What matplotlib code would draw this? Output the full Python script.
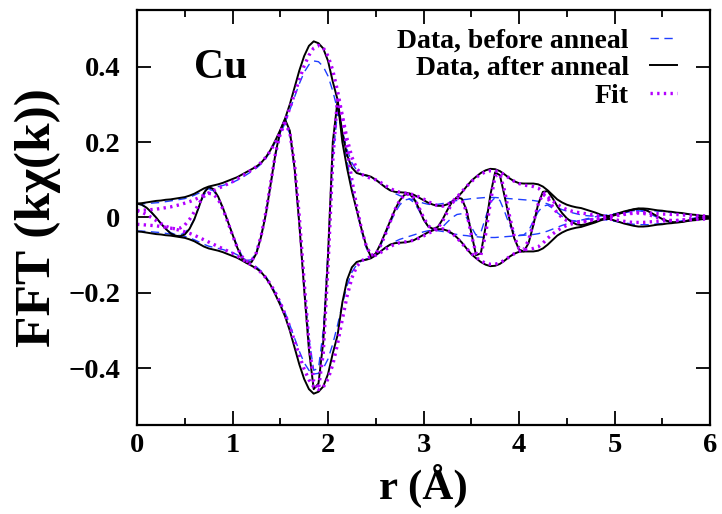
import numpy as np
import matplotlib
matplotlib.use("Agg")
import matplotlib.pyplot as plt

# ---------------------------------
# DATA (r step 0.05 A)
# ---------------------------------
r = np.round(np.arange(121) * 0.05, 2)

# before anneal: |FT| and Re(FT)
mag_before = [
    0.036, 0.036, 0.037, 0.038, 0.039, 0.040, 0.042, 0.044, 0.046, 0.048,
    0.050, 0.054, 0.059, 0.065, 0.071, 0.076, 0.079, 0.082, 0.085, 0.089,
    0.093, 0.099, 0.106, 0.114, 0.122, 0.131, 0.142, 0.157, 0.177, 0.200,
    0.225, 0.252, 0.285, 0.320, 0.355, 0.385, 0.405, 0.415, 0.413, 0.400,
    0.375, 0.335, 0.285, 0.230, 0.180, 0.145, 0.125, 0.115, 0.110, 0.106,
    0.100, 0.092, 0.082, 0.072, 0.064, 0.058, 0.054, 0.050, 0.046, 0.042,
    0.038, 0.035, 0.034, 0.035, 0.037, 0.040, 0.043, 0.045, 0.047, 0.048,
    0.050, 0.051, 0.052, 0.053, 0.053, 0.053, 0.052, 0.051, 0.050, 0.049,
    0.048, 0.047, 0.046, 0.045, 0.043, 0.040, 0.036, 0.031, 0.026, 0.021,
    0.017, 0.013, 0.010, 0.007, 0.005, 0.004, 0.004, 0.005, 0.006, 0.008,
    0.010, 0.012, 0.014, 0.016, 0.018, 0.019, 0.019, 0.019, 0.018, 0.017,
    0.016, 0.015, 0.014, 0.012, 0.011, 0.009, 0.008, 0.006, 0.005, 0.004,
    0.003]
re_before = [
    0.036, 0.033, 0.025, 0.013, -0.001, -0.016, -0.029, -0.040, -0.045, -0.046,
    -0.041, -0.027, -0.004, 0.028, 0.060, 0.075, 0.071, 0.052, 0.023, -0.010,
    -0.044, -0.076, -0.102, -0.114, -0.112, -0.090, -0.047, 0.012, 0.088, 0.165,
    0.222, 0.250, 0.222, 0.125, -0.020, -0.180, -0.320, -0.405, -0.400, -0.300,
    -0.090, 0.160, 0.280, 0.225, 0.150, 0.080, 0.020, -0.035, -0.080, -0.105,
    -0.098, -0.075, -0.045, -0.015, 0.012, 0.033, 0.046, 0.049, 0.040, 0.020,
    -0.005, -0.025, -0.034, -0.033, -0.025, -0.012, 0.000, 0.008, 0.010, 0.000,
    -0.025, -0.047, -0.040, 0.000, 0.040, 0.053, 0.045, 0.015, -0.020, -0.040,
    -0.047, -0.046, -0.035, -0.010, 0.015, 0.030, 0.033, 0.025, 0.013, 0.003,
    -0.004, -0.008, -0.009, -0.007, -0.004, -0.001, 0.002, 0.004, 0.005, 0.006,
    0.008, 0.010, 0.012, 0.015, 0.017, 0.018, 0.016, 0.012, 0.006, 0.000,
    -0.006, -0.010, -0.012, -0.011, -0.009, -0.006, -0.003, -0.001, 0.000, 0.001,
    0.001]

# after anneal
mag_after = [
    0.037, 0.038, 0.040, 0.042, 0.044, 0.045, 0.047, 0.048, 0.050, 0.052,
    0.054, 0.058, 0.063, 0.070, 0.077, 0.082, 0.085, 0.088, 0.092, 0.097,
    0.102, 0.107, 0.114, 0.121, 0.128, 0.135, 0.145, 0.160, 0.180, 0.205,
    0.232, 0.262, 0.300, 0.345, 0.390, 0.428, 0.455, 0.467, 0.462, 0.448,
    0.415, 0.360, 0.312, 0.225, 0.165, 0.132, 0.118, 0.114, 0.112, 0.108,
    0.100, 0.090, 0.080, 0.072, 0.068, 0.067, 0.066, 0.064, 0.060, 0.053,
    0.046, 0.039, 0.034, 0.031, 0.031, 0.035, 0.042, 0.053, 0.066, 0.082,
    0.097, 0.108, 0.118, 0.125, 0.129, 0.128, 0.123, 0.114, 0.104, 0.096,
    0.091, 0.090, 0.090, 0.090, 0.088, 0.082, 0.072, 0.060, 0.048, 0.040,
    0.034, 0.030, 0.027, 0.025, 0.021, 0.017, 0.013, 0.008, 0.004, 0.004,
    0.008, 0.012, 0.016, 0.019, 0.022, 0.024, 0.024, 0.023, 0.021, 0.019,
    0.018, 0.016, 0.015, 0.013, 0.012, 0.010, 0.008, 0.007, 0.005, 0.004,
    0.003]
re_after = [
    0.037, 0.034, 0.026, 0.014, 0.000, -0.016, -0.030, -0.042, -0.048, -0.050,
    -0.045, -0.030, -0.005, 0.030, 0.065, 0.081, 0.075, 0.055, 0.025, -0.010,
    -0.045, -0.080, -0.108, -0.121, -0.118, -0.095, -0.050, 0.010, 0.090, 0.170,
    0.230, 0.260, 0.230, 0.130, -0.020, -0.190, -0.350, -0.455, -0.440, -0.330,
    -0.100, 0.200, 0.310, 0.200, 0.130, 0.070, 0.020, -0.030, -0.075, -0.105,
    -0.095, -0.070, -0.040, -0.010, 0.020, 0.045, 0.060, 0.063, 0.050, 0.025,
    -0.005, -0.024, -0.030, -0.025, -0.005, 0.020, 0.042, 0.053, 0.050, 0.020,
    -0.040, -0.100, -0.095, -0.025, 0.060, 0.120, 0.112, 0.055, -0.005, -0.055,
    -0.085, -0.090, -0.068, -0.020, 0.035, 0.068, 0.070, 0.052, 0.030, 0.012,
    -0.002, -0.012, -0.018, -0.020, -0.018, -0.014, -0.010, -0.006, -0.002, 0.002,
    0.006, 0.010, 0.014, 0.018, 0.021, 0.023, 0.022, 0.017, 0.010, 0.003,
    -0.004, -0.009, -0.012, -0.013, -0.012, -0.009, -0.006, -0.003, -0.001, 0.000,
    0.001]

# fit
mag_fit = [
    0.018, 0.019, 0.020, 0.021, 0.022, 0.024, 0.026, 0.028, 0.031, 0.034,
    0.038, 0.042, 0.047, 0.053, 0.059, 0.065, 0.071, 0.077, 0.083, 0.089,
    0.095, 0.102, 0.110, 0.118, 0.126, 0.135, 0.146, 0.160, 0.178, 0.200,
    0.226, 0.256, 0.290, 0.328, 0.366, 0.402, 0.430, 0.449, 0.456, 0.450,
    0.428, 0.390, 0.335, 0.270, 0.208, 0.160, 0.130, 0.115, 0.108, 0.104,
    0.100, 0.093, 0.085, 0.077, 0.071, 0.067, 0.065, 0.063, 0.060, 0.055,
    0.049, 0.042, 0.036, 0.031, 0.030, 0.034, 0.042, 0.054, 0.068, 0.082,
    0.095, 0.106, 0.115, 0.121, 0.124, 0.124, 0.120, 0.113, 0.104, 0.096,
    0.090, 0.086, 0.084, 0.082, 0.078, 0.068, 0.055, 0.044, 0.035, 0.027,
    0.021, 0.017, 0.014, 0.012, 0.010, 0.008, 0.006, 0.004, 0.003, 0.004,
    0.006, 0.008, 0.010, 0.012, 0.013, 0.013, 0.013, 0.012, 0.011, 0.010,
    0.009, 0.009, 0.008, 0.008, 0.007, 0.006, 0.006, 0.005, 0.005, 0.004,
    0.004]
re_fit = [
    0.018, 0.014, 0.008, 0.000, -0.008, -0.016, -0.023, -0.028, -0.030, -0.028,
    -0.020, -0.005, 0.015, 0.038, 0.056, 0.064, 0.062, 0.048, 0.022, -0.012,
    -0.047, -0.080, -0.104, -0.116, -0.115, -0.093, -0.048, 0.015, 0.092, 0.170,
    0.222, 0.250, 0.225, 0.140, 0.000, -0.170, -0.330, -0.435, -0.455, -0.360,
    -0.130, 0.150, 0.320, 0.265, 0.180, 0.100, 0.030, -0.030, -0.075, -0.100,
    -0.097, -0.075, -0.045, -0.012, 0.020, 0.045, 0.060, 0.062, 0.052, 0.028,
    0.000, -0.022, -0.032, -0.028, -0.010, 0.015, 0.038, 0.052, 0.048, 0.015,
    -0.045, -0.095, -0.100, -0.045, 0.040, 0.110, 0.115, 0.070, 0.005, -0.050,
    -0.082, -0.085, -0.060, -0.015, 0.035, 0.062, 0.052, 0.030, 0.012, 0.000,
    -0.008, -0.012, -0.013, -0.012, -0.009, -0.006, -0.004, -0.002, 0.000, 0.002,
    0.004, 0.006, 0.008, 0.010, 0.011, 0.012, 0.011, 0.008, 0.004, 0.000,
    -0.004, -0.007, -0.008, -0.008, -0.007, -0.005, -0.003, -0.001, 0.000, 0.001,
    0.002]

x_ticks = [0, 1, 2, 3, 4, 5, 6]
y_ticks = [-0.4, -0.2, 0, 0.2, 0.4]
y_tick_labels = ["\u22120.4", "\u22120.2", "0", "0.2", "0.4"]

# ---------------------------------
# PLOT
# ---------------------------------
plt.rcParams["font.family"] = ["Liberation Serif", "DejaVu Serif"]
plt.rcParams["font.weight"] = "bold"

fig = plt.figure(figsize=(7.22, 5.14), dpi=100)
ax = fig.add_axes([0.1898, 0.1732, 0.7936, 0.8073])

blue = "#1f3fff"
violet = "#b400ff"

series = [
    (mag_before, re_before, dict(color=blue, lw=1.0, ls=(0, (6, 4))), "Data, before anneal"),
    (mag_after, re_after, dict(color="black", lw=1.4, ls="-"), "Data, after anneal"),
    (mag_fit, re_fit, dict(color=violet, lw=2.4, ls=(0, (0.7, 1.3)), dash_capstyle="butt"), "Fit"),
]

for mag, re, style, label in series:
    mag = np.array(mag)
    ax.plot(r, mag, label=label, **style)
    ax.plot(r, -mag, **style)
    ax.plot(r, re, **style)

ax.set_xlim(0, 6)
ax.set_ylim(-0.55, 0.55)
ax.set_xticks(x_ticks)
ax.set_xticks([0.5, 1.5, 2.5, 3.5, 4.5, 5.5], minor=True)
ax.set_yticks(y_ticks)
ax.set_yticklabels(y_tick_labels)

ax.tick_params(which="both", direction="in", top=True, right=True, width=1.3, labelsize=20.5)
ax.tick_params(which="major", length=10)
ax.tick_params(which="minor", length=5)
ax.tick_params(axis="x", pad=6)
ax.tick_params(axis="y", pad=12)
for sp in ax.spines.values():
    sp.set_linewidth(1.6)

ax.set_xlabel("r (\u00c5)", fontsize=31, fontweight="bold", labelpad=4)
ax.set_ylabel("FFT (k\u03c7(k))", fontsize=37, fontweight="bold", labelpad=5)

ax.text(0.88, 0.395, "Cu", fontsize=30, fontweight="bold", ha="center", va="center")

leg = ax.legend(loc="upper right", bbox_to_anchor=(0.943, 0.956), frameon=False,
                markerfirst=False, alignment="right", fontsize=20,
                handlelength=1.0, handletextpad=0.75, labelspacing=0.07,
                borderpad=0, borderaxespad=0)

plt.savefig("out.png", dpi=100)
